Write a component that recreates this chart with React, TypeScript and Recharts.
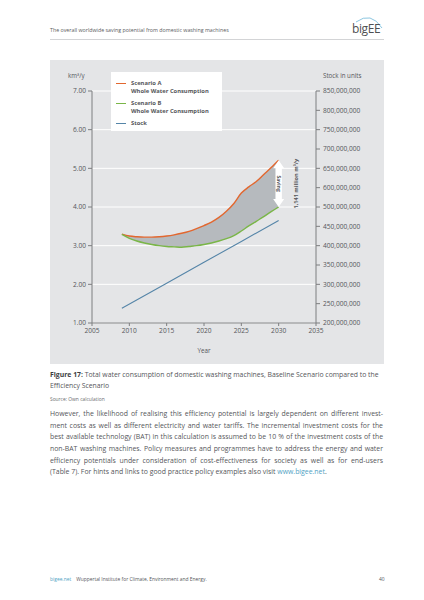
import React from "react";
import {
  ComposedChart,
  Line,
  Area,
  XAxis,
  YAxis,
  CartesianGrid,
  Legend,
  ReferenceLine,
} from "recharts";

const YEARS = [
  2009, 2010, 2011, 2012, 2013, 2014, 2015, 2016, 2017, 2018, 2019, 2020,
  2021, 2022, 2023, 2024, 2025, 2026, 2027, 2028, 2029, 2030,
];
// km³/y
const SCENARIO_A = [
  3.3, 3.25, 3.23, 3.22, 3.22, 3.23, 3.25, 3.28, 3.32, 3.37, 3.44, 3.52,
  3.61, 3.73, 3.89, 4.09, 4.36, 4.52, 4.66, 4.84, 5.02, 5.21,
];
const SCENARIO_B = [
  3.29, 3.19, 3.12, 3.07, 3.03, 3.0, 2.98, 2.97, 2.96, 2.98, 3.0, 3.03,
  3.07, 3.12, 3.18, 3.26, 3.38, 3.51, 3.63, 3.75, 3.88, 4.0,
];
// units
const STOCK_YEARS = [2009, 2015, 2020, 2025, 2030];
const STOCK = [238000000, 303000000, 357000000, 411000000, 465000000];

const SERIES_NAMES = ["Scenario A", "Scenario B", "Stock"];
const SERIES_SUBS = ["Whole Water Consumption", "Whole Water Consumption", ""];

const X_TICKS = [2005, 2010, 2015, 2020, 2025, 2030, 2035];
const LEFT_TICKS = [1, 2, 3, 4, 5, 6, 7];
const RIGHT_TICKS = [
  200000000, 250000000, 300000000, 350000000, 400000000, 450000000, 500000000,
  550000000, 600000000, 650000000, 700000000, 750000000, 800000000,
];
// labels as printed in the source figure
const RIGHT_TICK_LABELS = [
  "200,000,000", "250,000,000", "300,000,000", "350,000,000", "400,000,000",
  "450,000,000", "500,000,000", "600,000,000", "650,000,000", "700,000,000",
  "750,000,000", "800,000,000", "850,000,000",
];

const SAVING_LABEL = "1,141 million m³/y";

const BODY_LINES = [
  "However, the likelihood of realising this efficiency potential is largely dependent on different invest-",
  "ment costs as well as different electricity and water tariffs. The incremental investment costs for the",
  "best available technology (BAT) in this calculation is assumed to be 10 % of the investment costs of the",
  "non-BAT washing machines. Policy measures and programmes have to address the energy and water",
  "efficiency potentials under consideration of cost-effectiveness for society as well as for end-users",
];

const ORANGE = "#e2672f";
const GREEN = "#7ab648";
const BLUE = "#5585a8";
const TEXT = "#55565a";
const AXIS = "#7d7e80";
const FONT = "'Open Sans', sans-serif";

const data = YEARS.map((year, i) => {
  const s = STOCK_YEARS.indexOf(year);
  return {
    year,
    a: SCENARIO_A[i],
    b: SCENARIO_B[i],
    gap: [SCENARIO_B[i], SCENARIO_A[i]],
    stock: s >= 0 ? STOCK[s] : null,
  };
});

function SavingArrow(props: any) {
  const { x1, y1, y2 } = props;
  const top = Math.min(y1, y2);
  const bot = Math.max(y1, y2);
  const mid = (top + bot) / 2;
  const pts = [
    [x1, top],
    [x1 + 5.5, top + 8],
    [x1 + 3.2, top + 8],
    [x1 + 3.2, bot - 8],
    [x1 + 5.5, bot - 8],
    [x1, bot],
    [x1 - 5.5, bot - 8],
    [x1 - 3.2, bot - 8],
    [x1 - 3.2, top + 8],
    [x1 - 5.5, top + 8],
  ]
    .map((p) => p.join(","))
    .join(" ");
  return (
    <g>
      <polygon points={pts} fill="#fff" />
      <text
        x={x1}
        y={mid}
        transform={`rotate(90 ${x1} ${mid})`}
        textAnchor="middle"
        dominantBaseline="central"
        fontSize={5}
        fontWeight={700}
        fontFamily={FONT}
        fill={TEXT}
      >
        Saving
      </text>
      <text
        x={x1 + 17}
        y={mid}
        transform={`rotate(-90 ${x1 + 17} ${mid})`}
        textAnchor="middle"
        dominantBaseline="central"
        fontSize={5.6}
        fontWeight={700}
        fontFamily={FONT}
        fill={TEXT}
      >
        {SAVING_LABEL}
      </text>
    </g>
  );
}

function LegendBox({ payload }: any) {
  const items = (payload || []).filter((p: any) => SERIES_NAMES.includes(p.value));
  return (
    <div
      style={{
        background: "#fff",
        padding: "7px 0 4px 0",
        width: 111,
        boxSizing: "border-box",
        fontFamily: FONT,
        fontSize: 5.8,
        fontWeight: 700,
        color: TEXT,
        lineHeight: "8px",
      }}
    >
      {items.map((p: any) => {
        const i = SERIES_NAMES.indexOf(p.value);
        return (
          <div key={p.value} style={{ position: "relative", paddingLeft: 20, marginBottom: i < 2 ? 4 : 0 }}>
            <span
              style={{
                position: "absolute",
                left: 5,
                top: 3.5,
                width: 10,
                height: 1.3,
                background: p.color,
              }}
            />
            <div>{p.value}</div>
            {SERIES_SUBS[i] && <div>{SERIES_SUBS[i]}</div>}
          </div>
        );
      })}
    </div>
  );
}

function Txt({
  x,
  cy,
  size,
  children,
  style,
}: {
  x: number;
  cy: number;
  size: number;
  children: React.ReactNode;
  style?: React.CSSProperties;
}) {
  return (
    <div
      style={{
        position: "absolute",
        left: x,
        top: cy - size * 0.7,
        fontSize: size,
        lineHeight: `${size * 1.4}px`,
        whiteSpace: "nowrap",
        color: TEXT,
        ...style,
      }}
    >
      {children}
    </div>
  );
}

export default function App() {
  const tick = { fontSize: 6.6, fill: TEXT, fontFamily: FONT };
  return (
    <div
      style={{
        position: "absolute",
        left: 0,
        top: 0,
        width: 424,
        height: 600,
        background: "#fff",
        fontFamily: FONT,
      }}
    >
      <Txt x={50} cy={30.7} size={5.3} style={{ color: "#5a5b5d" }}>
        The overall worldwide saving potential from domestic washing machines
      </Txt>
      <svg
        width={40}
        height={26}
        style={{ position: "absolute", left: 346, top: 12 }}
      >
        <path d="M10 10 Q25 -1 36 16" fill="none" stroke="#7fbfdc" strokeWidth={0.9} />
        <text x={6} y={21} fontSize={12} fontFamily={FONT} fill="#4f5052" letterSpacing={-0.4}>
          bigEE
        </text>
      </svg>
      <div
        style={{
          position: "absolute",
          left: 50,
          top: 39,
          width: 334,
          height: 0.8,
          background: "#d3d4d6",
        }}
      />

      <div
        style={{
          position: "absolute",
          left: 50,
          top: 60,
          width: 334,
          height: 304,
          background: "#e4e5e7",
        }}
      >
        <ComposedChart
          width={334}
          height={304}
          data={data}
          margin={{ top: 31, right: 0, bottom: 0, left: 0 }}
        >
          <CartesianGrid yAxisId="left" vertical={false} stroke="#fff" strokeWidth={1} />
          <XAxis
            dataKey="year"
            type="number"
            domain={[2005, 2035]}
            ticks={X_TICKS}
            interval={0}
            height={41}
            tick={tick}
            tickSize={3}
            tickMargin={2}
            stroke={AXIS}
            label={{
              value: "Year",
              position: "insideBottom",
              offset: 11,
              fontSize: 6.3,
              fill: TEXT,
              fontFamily: FONT,
            }}
          />
          <YAxis
            yAxisId="left"
            domain={[1, 7]}
            ticks={LEFT_TICKS}
            interval={0}
            width={42}
            tick={tick}
            tickSize={4}
            tickMargin={2}
            stroke={AXIS}
            tickFormatter={(v: number) => v.toFixed(2)}
          />
          <YAxis
            yAxisId="right"
            orientation="right"
            domain={[200000000, 800000000]}
            ticks={RIGHT_TICKS}
            interval={0}
            width={68}
            tick={{ ...tick, textAnchor: "start" }}
            tickSize={4}
            tickMargin={3}
            stroke={AXIS}
            tickFormatter={(v: number) => RIGHT_TICK_LABELS[RIGHT_TICKS.indexOf(v)]}
          />
          <Area
            yAxisId="left"
            dataKey="gap"
            type="monotone"
            fill="#b6babe"
            fillOpacity={1}
            stroke="none"
            legendType="none"
            isAnimationActive={false}
          />
          <Line
            yAxisId="left"
            dataKey="a"
            name={SERIES_NAMES[0]}
            type="monotone"
            stroke={ORANGE}
            strokeWidth={1.4}
            dot={false}
            isAnimationActive={false}
          />
          <Line
            yAxisId="left"
            dataKey="b"
            name={SERIES_NAMES[1]}
            type="monotone"
            stroke={GREEN}
            strokeWidth={1.4}
            dot={false}
            isAnimationActive={false}
          />
          <Line
            yAxisId="right"
            dataKey="stock"
            name={SERIES_NAMES[2]}
            stroke={BLUE}
            strokeWidth={1.1}
            dot={false}
            connectNulls
            isAnimationActive={false}
          />
          <ReferenceLine
            yAxisId="left"
            segment={[
              { x: 2030, y: SCENARIO_B[SCENARIO_B.length - 1] },
              { x: 2030, y: SCENARIO_A[SCENARIO_A.length - 1] },
            ]}
            shape={SavingArrow}
          />
          <Legend
            layout="vertical"
            align="center"
            verticalAlign="middle"
            wrapperStyle={{ left: 61, top: 12, width: 111 }}
            content={LegendBox}
          />
        </ComposedChart>
        <Txt x={18} cy={16.7} size={6.2}>
          km³/y
        </Txt>
        <Txt x={273} cy={16} size={6.2}>
          Stock in units
        </Txt>
      </div>

      <Txt x={50} cy={375} size={6.85}>
        <b style={{ color: "#3c3d3f" }}>Figure 17:</b> Total water consumption of domestic washing
        machines, Baseline Scenario compared to the
      </Txt>
      <Txt x={50} cy={385.9} size={6.85}>
        Efficiency Scenario
      </Txt>
      <Txt x={50} cy={399} size={4.9} style={{ color: "#6a6b6d" }}>
        Source: Own calculation
      </Txt>

      <div
        style={{
          position: "absolute",
          left: 50,
          top: 408.2,
          width: 333,
          fontSize: 6.9,
          lineHeight: "11.65px",
          color: TEXT,
        }}
      >
        {BODY_LINES.map((l) => (
          <div key={l} style={{ textAlign: "justify", textAlignLast: "justify", height: 11.65, overflow: "visible" }}>
            {l}
          </div>
        ))}
        <div>
          (Table 7). For hints and links to good practice policy examples also visit{" "}
          <span style={{ color: "#4f9fc4" }}>www.bigee.net</span>.
        </div>
      </div>

      <Txt x={50} cy={579} size={4.9}>
        <span style={{ color: "#4f9fc4" }}>bigee.net</span>
        <span style={{ marginLeft: 5 }}>Wuppertal Institute for Climate, Environment and Energy.</span>
      </Txt>
      <Txt x={379} cy={579} size={4.9}>
        40
      </Txt>
    </div>
  );
}
